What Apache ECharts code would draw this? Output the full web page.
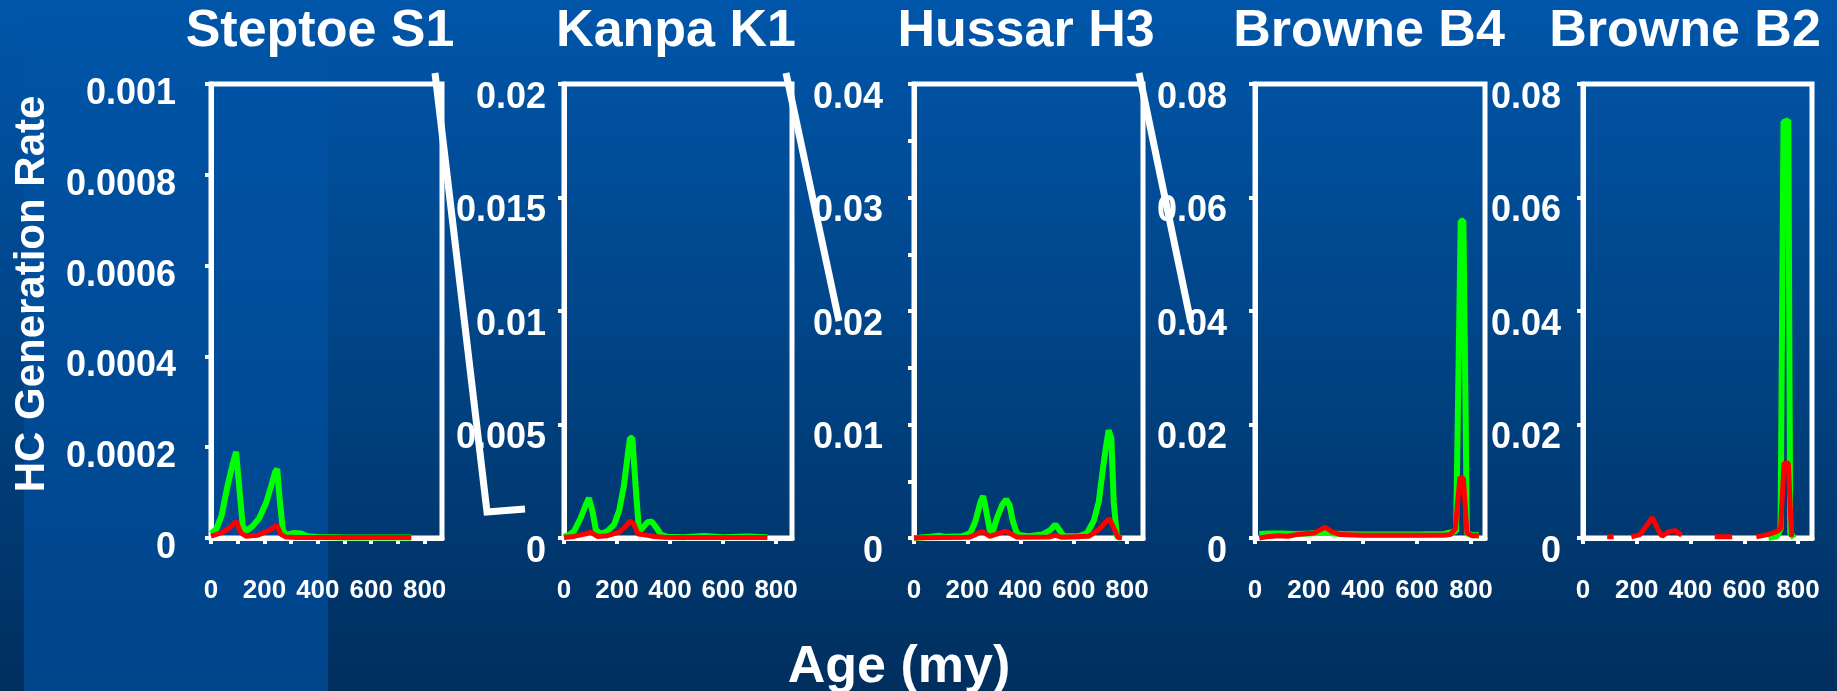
<!DOCTYPE html>
<html>
<head>
<meta charset="utf-8">
<script src="https://cdn.jsdelivr.net/npm/echarts@6/dist/echarts.min.js"></script>
<style>
html,body{margin:0;padding:0;width:1837px;height:691px;overflow:hidden;background:#003f7f;}
#c{width:1837px;height:691px;}
</style>
</head>
<body>
<div id="c"></div>
<script>
// ---------------- data ----------------
const panelTitles = ['Steptoe S1', 'Kanpa K1', 'Hussar H3', 'Browne B4', 'Browne B2'];
const yAxisTitle = 'HC Generation Rate';
const xAxisTitle = 'Age (my)';
const yMaxes = [0.001, 0.02, 0.04, 0.08, 0.08];

const yLabels1 = ['0', '0.0002', '0.0004', '0.0006', '0.0008', '0.001'];
const yLabels2 = ['0', '0.005', '0.01', '0.015', '0.02'];
const yLabels3 = ['0', '0.01', '0.02', '0.03', '0.04'];
const yLabels4 = ['0', '0.02', '0.04', '0.06', '0.08'];
const yLabels5 = ['0', '0.02', '0.04', '0.06', '0.08'];
const yTicks3 = ['0', '0.005', '0.01', '0.015', '0.02', '0.025', '0.03', '0.035', '0.04'];

const xLabels = [0, 200, 400, 600, 800];
const xTicksFine = [0, 100, 200, 300, 400, 500, 600, 700, 800];

// Steptoe S1
const s1GreenAge = [0, 20, 40, 60, 80, 94, 106, 119, 131, 156, 181, 206, 225, 240, 248, 258, 269, 281, 312, 337, 362, 400, 500, 600, 700, 750];
const s1Green = [0.00001, 0.00002, 0.00005, 0.00011, 0.00016, 0.00019, 0.00011, 0.000026, 0.000015, 0.000026, 0.000044, 0.000077, 0.000114, 0.000145, 0.000152, 0.00008, 0.000018, 0.000007, 0.000011, 0.00001, 0.000004, 0.000002, 0.000001, 0.000001, 0.000001, 0.000001];
const s1RedAge = [0, 20, 40, 69, 94, 112, 131, 175, 212, 246, 262, 281, 320, 400, 500, 600, 700, 750];
const s1Red = [0.000004, 0.000008, 0.000012, 0.000022, 0.000037, 0.000011, 0.000004, 0.000006, 0.000015, 0.000028, 0.000008, 0.000002, 0.000001, 0.000001, 0.000001, 0.000001, 0.000001, 0.000001];

// Kanpa K1
const k1GreenAge = [0, 20, 38, 63, 80, 94, 107, 120, 138, 164, 189, 208, 226, 242, 249, 258, 270, 283, 296, 315, 331, 352, 365, 390, 450, 528, 600, 692, 767];
const k1Green = [0.00005, 0.00015, 0.0003, 0.00088, 0.0014, 0.00176, 0.0012, 0.00037, 0.00018, 0.0003, 0.00059, 0.0012, 0.0023, 0.0038, 0.0044, 0.0044, 0.0023, 0.0003, 0.00044, 0.0007, 0.00073, 0.0004, 0.00015, 0.00005, 0.00003, 0.00009, 0.00003, 0.00007, 0.00003];
const k1RedAge = [0, 38, 82, 100, 126, 164, 208, 233, 249, 264, 279, 296, 315, 340, 377, 450, 550, 650, 767];
const k1Red = [0.00002, 0.00007, 0.00018, 0.00026, 0.00007, 0.0001, 0.00026, 0.00051, 0.00076, 0.00059, 0.00018, 0.00015, 0.00012, 0.00007, 0.00003, 0.00002, 0.00002, 0.00002, 0.00002];

// Hussar H3
const h3GreenAge = [0, 19, 56, 94, 119, 181, 212, 231, 250, 260, 271, 284, 294, 312, 331, 346, 359, 371, 388, 431, 481, 512, 531, 546, 562, 619, 650, 675, 694, 710, 722, 731, 741, 750, 762, 775];
const h3Green = [0, 0.00003, 0.0001, 0.0002, 0.0001, 0.00015, 0.00044, 0.0015, 0.0032, 0.0037, 0.0024, 0.00073, 0.0004, 0.0018, 0.0029, 0.0034, 0.0029, 0.0015, 0.0003, 0.00015, 0.0003, 0.0007, 0.0012, 0.0007, 0.00015, 0.00015, 0.00044, 0.0015, 0.0032, 0.0062, 0.0082, 0.0095, 0.0088, 0.0032, 0.00015, 0];
const h3RedAge = [0, 19, 206, 231, 256, 284, 319, 344, 369, 388, 506, 531, 556, 656, 694, 719, 734, 750, 766, 781];
const h3Red = [0, 0.00003, 0.00006, 0.0003, 0.0006, 0.00015, 0.0004, 0.0006, 0.0003, 0.00006, 0.00009, 0.00023, 0.00006, 0.00015, 0.00073, 0.0014, 0.0017, 0.0009, 0.00006, 0];

// Browne B4
const b4GreenAge = [16, 50, 100, 150, 200, 230, 260, 290, 320, 400, 500, 600, 700, 745, 762, 772, 785, 805, 830];
const b4Green = [0.0007, 0.0008, 0.0008, 0.0007, 0.0008, 0.0009, 0.0011, 0.0008, 0.0007, 0.0006, 0.0006, 0.0006, 0.0007, 0.0012, 0.0559, 0.0559, 0.0008, 0.0005, 0.0005];
const b4RedAge = [16, 41, 89, 122, 154, 220, 260, 285, 317, 400, 500, 600, 700, 724, 742, 759, 772, 785, 805, 829];
const b4Red = [0, 0.0002, 0.0004, 0.0003, 0.0006, 0.0009, 0.0019, 0.0011, 0.0006, 0.0005, 0.0005, 0.0005, 0.0005, 0.0006, 0.0016, 0.0107, 0.0105, 0.0009, 0.0004, 0.0004];

// Browne B2 (null = gap in the line)
const b2GreenAge = [690, 722, 735, 746, 764, 771, 785];
const b2Green = [0, 0.0003, 0.0016, 0.0733, 0.0736, 0.0009, 0];
const b2RedAge = [90, 114, 150, 180, 212, 237, 258, 278, 294, 318, 343, 367, 430, 490, 555, 600, 645, 686, 718, 735, 748, 764, 776];
const b2Red = [0.0002, 0.0002, null, 0.0002, 0.0006, 0.0022, 0.0036, 0.0016, 0.0003, 0.0011, 0.0013, 0.0005, null, 0.0002, 0.0002, null, 0.0002, 0.0006, 0.0011, 0.0016, 0.0132, 0.0132, 0.0002];

// ---------------- layout / style ----------------
const grids = [
  {left: 211, width: 231, xMax: 865, yMargin: 35, yShift: 10, xTicks: xTicksFine, yLabels: yLabels1, yTicks: yLabels1},
  {left: 564, width: 228, xMax: 860, yMargin: 18, yShift: 14, xTicks: xLabels, yLabels: yLabels2, yTicks: yLabels2},
  {left: 914, width: 229, xMax: 860, yMargin: 31, yShift: 14, xTicks: xLabels, yLabels: yLabels3, yTicks: yTicks3},
  {left: 1255, width: 230, xMax: 852, yMargin: 28, yShift: 14, xTicks: xLabels, yLabels: yLabels4, yTicks: yLabels4},
  {left: 1583, width: 229, xMax: 852, yMargin: 22, yShift: 14, xTicks: xLabels, yLabels: yLabels5, yTicks: yLabels5}
];
const titleCenters = [320, 676, 1026, 1369, 1685];
const seriesSets = [
  [s1GreenAge, s1Green, s1RedAge, s1Red],
  [k1GreenAge, k1Green, k1RedAge, k1Red],
  [h3GreenAge, h3Green, h3RedAge, h3Red],
  [b4GreenAge, b4Green, b4RedAge, b4Red],
  [b2GreenAge, b2Green, b2RedAge, b2Red]
];
const FONT = '"Liberation Sans", Arial, sans-serif';
const GRID_TOP = 84, GRID_H = 454;

const pairs = (ages, vals) => ages.map((a, i) => [a, vals[i] === null ? '-' : vals[i]]);

const gridOpt = [], xAxes = [], yAxes = [], series = [];
grids.forEach((g, i) => {
  gridOpt.push({left: g.left, top: GRID_TOP, width: g.width, height: GRID_H, show: true,
    borderColor: '#ffffff', borderWidth: 5, backgroundColor: 'transparent'});
  xAxes.push({
    type: 'value', gridIndex: i, min: 0, max: g.xMax,
    axisLine: {show: true, onZero: false, lineStyle: {color: '#ffffff', width: 5}},
    axisTick: {show: true, length: 6, lineStyle: {color: '#ffffff', width: 4}, customValues: g.xTicks},
    axisLabel: {show: true, customValues: xLabels, color: '#ffffff', fontSize: 26, fontWeight: 'bold',
      fontFamily: FONT, margin: 40},
    splitLine: {show: false}
  });
  const yt = g.yTicks.map(Number);
  yAxes.push({
    type: 'value', gridIndex: i, min: 0, max: yMaxes[i],
    axisLine: {show: true, lineStyle: {color: '#ffffff', width: 5}},
    axisTick: {show: true, length: 6, lineStyle: {color: '#ffffff', width: 4}, customValues: yt},
    axisLabel: {show: true, customValues: g.yLabels.map(Number),
      formatter: v => { const k = g.yLabels.find(s => Math.abs(Number(s) - v) < 1e-12); return k !== undefined ? k : String(v); },
      color: '#ffffff', fontSize: 36, fontWeight: 'bold', fontFamily: FONT,
      margin: g.yMargin, verticalAlign: 'top', lineHeight: 2 * g.yShift},
    splitLine: {show: false}
  });
  const s = seriesSets[i];
  series.push({type: 'line', xAxisIndex: i, yAxisIndex: i, data: pairs(s[0], s[1]), symbol: 'none',
    lineStyle: {color: '#00ff00', width: 6}, itemStyle: {color: '#00ff00'}, z: 3, animation: false, clip: false, connectNulls: false});
  series.push({type: 'line', xAxisIndex: i, yAxisIndex: i, data: pairs(s[2], s[3]), symbol: 'none',
    lineStyle: {color: '#ff0000', width: 5}, itemStyle: {color: '#ff0000'}, z: 4, animation: false, clip: false, connectNulls: false});
});

const graphics = [
  {type: 'rect', z: -10, silent: true, shape: {x: 24, y: 0, width: 304, height: 691},
    style: {fill: new echarts.graphic.LinearGradient(0, 0, 0, 1, [
      {offset: 0, color: '#0055a8'}, {offset: 1, color: '#00448a'}])}},
  {type: 'text', z: 50, x: 32, y: 294, rotation: Math.PI / 2,
    style: {text: yAxisTitle, fill: '#ffffff', fontSize: 42, fontWeight: 'bold', fontFamily: FONT, align: 'center', verticalAlign: 'middle'}},
  {type: 'text', z: 50, x: 899, y: 668,
    style: {text: xAxisTitle, fill: '#ffffff', fontSize: 52, fontWeight: 'bold', fontFamily: FONT, align: 'center', verticalAlign: 'middle'}},
  {type: 'polyline', z: 60, shape: {points: [[435, 73], [487, 512], [525, 509]]},
    style: {stroke: '#ffffff', lineWidth: 7, fill: null, lineJoin: 'miter'}},
  {type: 'polyline', z: 60, shape: {points: [[786, 73], [839, 321]]},
    style: {stroke: '#ffffff', lineWidth: 7, fill: null}},
  {type: 'polyline', z: 60, shape: {points: [[1139, 73], [1191, 323]]},
    style: {stroke: '#ffffff', lineWidth: 7, fill: null}}
];
panelTitles.forEach((t, i) => {
  graphics.push({type: 'text', z: 50, x: titleCenters[i], y: 32,
    style: {text: t, fill: '#ffffff', fontSize: 52, fontWeight: 'bold', fontFamily: FONT, align: 'center', verticalAlign: 'middle'}});
});

const chart = echarts.init(document.getElementById('c'), null, {renderer: 'canvas'});
chart.setOption({
  animation: false,
  backgroundColor: new echarts.graphic.LinearGradient(0, 0, 0, 1, [
    {offset: 0, color: '#0056aa'}, {offset: 0.5, color: '#004486'}, {offset: 1, color: '#002f5e'}]),
  grid: gridOpt,
  xAxis: xAxes,
  yAxis: yAxes,
  series: series,
  graphic: graphics
});
</script>
</body>
</html>
